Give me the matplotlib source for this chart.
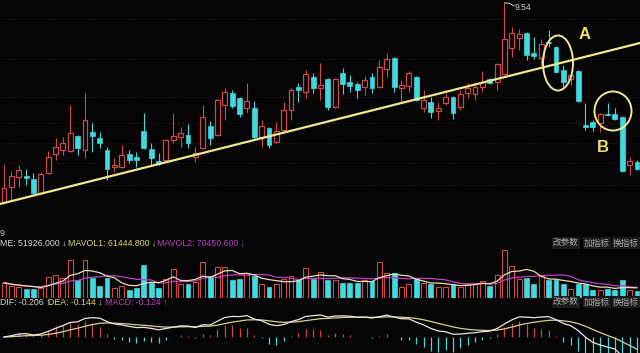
import matplotlib
matplotlib.use("Agg")
import matplotlib.pyplot as plt
from matplotlib.patches import Ellipse
import numpy as np
import pandas as pd

plt.rcParams['font.family'] = ['Liberation Sans', 'DejaVu Sans']

# ---- data ----
opens = [7.55, 7.70, 7.80, 7.81, 7.78, 7.64, 7.84, 8.03, 8.07, 8.06,
         8.21, 8.07, 8.25, 8.19, 8.07, 7.90, 7.90, 8.03, 8.00, 8.26,
         8.08, 7.96, 7.97, 8.17, 8.20, 8.22, 8.00, 8.09, 8.31, 8.22,
         8.52, 8.64, 8.59, 8.49, 8.49, 8.20, 8.29, 8.15, 8.27, 8.47,
         8.70, 8.65, 8.80, 8.69, 8.78, 8.50, 8.84, 8.75, 8.73, 8.70,
         8.80, 8.70, 8.88, 8.99, 8.69, 8.71, 8.80, 8.49, 8.55, 8.46,
         8.54, 8.60, 8.50, 8.64, 8.63, 8.70, 8.78, 8.75, 8.83, 9.09,
         9.19, 9.24, 9.04, 8.99, 9.15, 9.10, 8.87, 8.78, 8.86, 8.32,
         8.35, 8.34, 8.43, 8.43, 8.40, 7.92, 7.95]
highs = [7.93, 7.86, 7.92, 7.88, 7.84, 7.85, 8.06, 8.19, 8.20, 8.52,
         8.22, 8.64, 8.34, 8.25, 8.10, 7.99, 8.12, 8.07, 8.05, 8.44,
         8.14, 8.04, 8.18, 8.44, 8.30, 8.33, 8.10, 8.52, 8.36, 8.58,
         8.69, 8.67, 8.60, 8.74, 8.56, 8.37, 8.30, 8.35, 8.55, 8.69,
         8.74, 8.87, 8.84, 8.94, 8.79, 8.79, 8.89, 8.82, 8.75, 8.81,
         8.84, 8.97, 9.04, 9.00, 8.77, 8.86, 8.81, 8.67, 8.60, 8.55,
         8.64, 8.61, 8.67, 8.74, 8.75, 8.86, 8.79, 8.94, 9.54, 9.30,
         9.28, 9.25, 9.20, 9.18, 9.27, 9.11, 8.92, 8.87, 8.87, 8.54,
         8.37, 8.44, 8.54, 8.49, 8.41, 8.00, 7.97]
lows = [7.54, 7.57, 7.70, 7.72, 7.63, 7.63, 7.83, 7.97, 8.02, 8.05,
        8.02, 7.99, 8.05, 8.09, 7.77, 7.85, 7.89, 7.94, 7.90, 8.08,
        7.92, 7.92, 7.96, 8.14, 8.10, 8.09, 7.95, 8.08, 8.12, 8.21,
        8.37, 8.49, 8.40, 8.44, 8.17, 8.10, 8.09, 8.14, 8.24, 8.37,
        8.55, 8.59, 8.64, 8.57, 8.47, 8.49, 8.63, 8.65, 8.59, 8.62,
        8.64, 8.69, 8.80, 8.65, 8.55, 8.65, 8.56, 8.45, 8.39, 8.37,
        8.52, 8.38, 8.47, 8.59, 8.57, 8.65, 8.73, 8.67, 8.82, 9.00,
        9.07, 8.97, 8.98, 8.92, 9.10, 8.84, 8.70, 8.72, 8.55, 8.27,
        8.26, 8.25, 8.41, 8.37, 7.85, 7.82, 7.87]
closes = [7.69, 7.81, 7.87, 7.79, 7.64, 7.83, 8.00, 8.10, 8.14, 8.24,
          8.09, 8.37, 8.21, 8.14, 7.88, 7.92, 8.02, 7.97, 7.97, 8.09,
          7.99, 7.94, 8.17, 8.21, 8.24, 8.14, 8.04, 8.40, 8.19, 8.57,
          8.65, 8.51, 8.43, 8.56, 8.20, 8.31, 8.12, 8.26, 8.47, 8.67,
          8.67, 8.83, 8.69, 8.72, 8.50, 8.78, 8.73, 8.71, 8.67, 8.77,
          8.69, 8.90, 8.98, 8.70, 8.72, 8.84, 8.57, 8.57, 8.45, 8.49,
          8.60, 8.44, 8.63, 8.69, 8.70, 8.75, 8.74, 8.93, 9.18, 9.24,
          9.23, 9.02, 9.01, 9.13, 9.14, 8.85, 8.75, 8.82, 8.56, 8.30,
          8.30, 8.43, 8.42, 8.38, 7.86, 7.96, 7.88]
volumes = [11.1, 8.9, 8.1, 6.7, 6.7, 7.4, 15.5, 17.0, 14.8, 27.4,
           13.3, 27.4, 14.8, 8.9, 14.8, 7.4, 8.9, 5.9, 7.4, 23.7,
           11.1, 7.4, 14.1, 20.7, 10.4, 10.4, 11.8, 25.9, 16.3, 22.2,
           22.2, 13.3, 14.1, 17.8, 16.3, 10.4, 8.1, 10.4, 14.1, 16.3,
           13.3, 21.5, 14.1, 18.5, 13.3, 13.3, 11.1, 11.1, 11.1, 13.3,
           12.6, 25.9, 17.8, 17.8, 8.1, 10.4, 14.1, 11.1, 10.4, 8.1,
           8.1, 10.4, 8.1, 11.1, 11.1, 12.6, 8.9, 17.0, 34.8, 22.9,
           14.1, 14.8, 10.4, 16.3, 13.3, 13.3, 10.4, 6.7, 10.4, 10.4,
           5.9, 5.9, 6.7, 5.9, 13.3, 5.9, 5.19]   # 10k shares

high_label = "9.54"
vol_label = ["ME: 51926.000 \u2193", "MAVOL1: 61444.800 \u2193", "MAVOL2: 70450.600 \u2193"]
macd_label = ["DIF: -0.206 \u2191", "DEA: -0.144 \u2193", "MACD: -0.124 \u2191"]
buttons = ["改参数", "加指标", "换指标"]

# ---- style ----
BG = '#050505'
UP = '#d04848'
DN = '#3fd9e0'
YEL = '#f0e890'
MAG = '#c040c8'
W, H = 640, 353

n = len(closes)
x = np.arange(n)
o = np.array(opens); c = np.array(closes); h = np.array(highs); l = np.array(lows)
v = np.array(volumes)
up = c >= o

fig = plt.figure(figsize=(W / 100, H / 100), dpi=100, facecolor=BG)

def px_axes(top, bottom):
    return fig.add_axes([0, 1 - bottom / H, 1, (bottom - top) / H])

xlim = (-4 / 7.36, (640 - 4) / 7.36)

# ---- main panel ----
ax = px_axes(0, 213)
ax.set_facecolor(BG)
ax.set_xlim(*xlim)
ax.set_ylim(9.57 - 2.13, 9.57)
ax.axis('off')
for gy in [9.38, 8.98, 8.60, 8.34, 8.14, 7.94, 7.72]:
    ax.axhline(gy, color='#3a2a2a', lw=0.6, ls=(0, (1, 2)), zorder=0)

bw = 0.66
for i in range(n):
    top, bot = max(o[i], c[i]), min(o[i], c[i])
    if up[i]:
        ax.vlines(x[i], top, h[i], color=UP, lw=0.8, zorder=2)
        ax.vlines(x[i], l[i], bot, color=UP, lw=0.8, zorder=2)
        ax.bar(x[i], max(top - bot, 0.006), bottom=bot, width=bw, facecolor=BG,
               edgecolor=UP, linewidth=0.9, zorder=3)
    else:
        ax.vlines(x[i], l[i], h[i], color=DN, lw=0.8, zorder=2)
        ax.bar(x[i], max(top - bot, 0.012), bottom=bot, width=bw, facecolor=DN,
               edgecolor=DN, linewidth=0.5, zorder=3)

# trend line
ax.plot([xlim[0], xlim[1]], [7.53, 9.14], color=YEL, lw=1.6, zorder=4)

# high label
imax = int(np.argmax(h))
ax.plot([imax, imax + 0.6, imax + 1.3], [h[imax], h[imax], h[imax] - 0.03], color='#d0d0d0', lw=0.7, zorder=5)
ax.text(imax + 1.4, h[imax] - 0.045, high_label, color='#d0d0d0', fontsize=6.2, va='center', ha='left')

# circles and letters
ax.add_patch(Ellipse(((558 - 4) / 7.36, 9.57 - 0.63), 30 / 7.36, 0.55, fill=False,
                     edgecolor=YEL, lw=1.4, zorder=6))
ax.add_patch(Ellipse(((613 - 4) / 7.36, 9.57 - 1.11), 37 / 7.36, 0.39, fill=False,
                     edgecolor=YEL, lw=1.4, zorder=6))
ax.text((585 - 4) / 7.36, 9.57 - 0.35, "A", color='#f0e060', fontsize=12, fontweight='bold',
        ha='center', va='center', zorder=7)
ax.text((603 - 4) / 7.36, 9.57 - 1.48, "B", color='#f0e060', fontsize=12, fontweight='bold',
        ha='center', va='center', zorder=7)

# ---- volume panel ----
axv = px_axes(250, 298)
axv.set_facecolor(BG)
axv.set_xlim(*xlim)
axv.set_ylim(0, v.max() * 1.0)
axv.axis('off')
for i in range(n):
    if up[i]:
        axv.bar(x[i], v[i], width=bw, facecolor=BG, edgecolor=UP, linewidth=0.8)
    else:
        axv.bar(x[i], v[i], width=bw, facecolor=DN, edgecolor=DN, linewidth=0.5)
ma5 = pd.Series(v).rolling(5, min_periods=1).mean()
ma10 = pd.Series(v).rolling(10, min_periods=1).mean()
axv.plot(x, ma10, color=MAG, lw=0.9)
axv.plot(x, ma5, color='#e8e0b0', lw=0.9)

# ---- MACD panel ----
axm = px_axes(308, 353)
axm.set_facecolor(BG)
axm.set_xlim(*xlim)
axm.axis('off')
cs = pd.Series(c)
dif = cs.ewm(span=12, adjust=False).mean() - cs.ewm(span=26, adjust=False).mean()
dea = dif.ewm(span=9, adjust=False).mean()
macd = 2 * (dif - dea)
peak = max(dif.max(), dea.max(), macd.max())
s = 22 / peak
axm.set_ylim(-16 / s, 29 / s)
for i in range(n):
    col = UP if macd[i] >= 0 else DN
    axm.vlines(x[i], 0, macd[i], color=col, lw=0.9)
axm.plot(x, dea, color='#d8d090', lw=0.9)
axm.plot(x, dif, color='#e8e8e8', lw=0.9)

# ---- texts ----
def ftxt(px, py, s, color, **kw):
    fig.text(px / W, 1 - py / H, s, color=color, fontsize=6.3, va='center', ha='left', **kw)

ftxt(0, 234, "9", '#c8c8c8')
ftxt(0, 243, vol_label[0], '#d8d8d8')
ftxt(68, 243, vol_label[1], '#e0d870')
ftxt(157, 243, vol_label[2], MAG)
ftxt(0, 302, macd_label[0], '#d8d8d8')
ftxt(48, 302, macd_label[1], '#e0d870')
ftxt(105, 302, macd_label[2], MAG)

for py in (243, 302):
    for bx, b in zip([553, 584, 613], buttons):
        fig.text(bx / W, 1 - py / H, b, color='#a8a8a8', fontsize=6.2, va='center', ha='left',
                 family=['Noto Sans CJK SC', 'DejaVu Sans'],
                 bbox=dict(boxstyle='square,pad=0.12', facecolor='#1c1c1c', edgecolor='none'))

fig.savefig('out.png', dpi=100, facecolor=BG)
